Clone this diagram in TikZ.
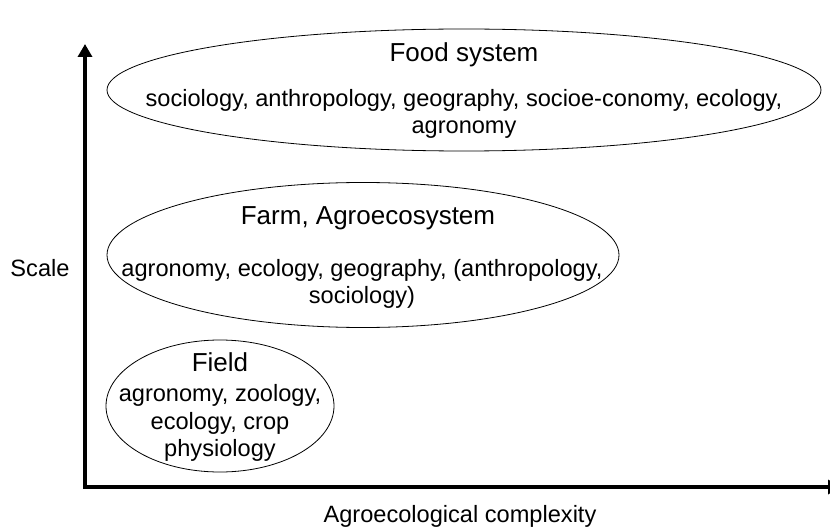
\documentclass[tikz,border=0pt]{standalone}
\usepackage{fontspec}
\setmainfont{Liberation Sans}
\usetikzlibrary{positioning,arrows.meta,shapes.geometric}

\tikzset{
  zone/.style={draw, ellipse, line width=0.8pt, inner sep=0pt},
  head/.style={font=\fontsize{26}{30}\selectfont, align=center, inner sep=0pt},
  fields/.style={font=\fontsize{23.6}{27.5}\selectfont, align=center, inner sep=0pt},
  axis/.style={line width=3.5pt, {Triangle[length=13pt,width=14pt]}-{Triangle[length=13pt,width=14pt]}}
}

\begin{document}
\begin{tikzpicture}[x=1pt,y=-1pt]

        \useasboundingbox (0,0) rectangle (830,532);
        \clip (0,0) rectangle (830,532);

        % axes
        \coordinate (ytop) at (85,44);
        \coordinate (origin) at (85,487);
        \coordinate (xend) at (841,487);
        \draw[axis] (ytop) -- (origin) -- (xend);

        \node (scale) at (40,268) {\fontsize{23.6}{27}\selectfont Scale};
        \node (complexity) at (460,516) {\fontsize{23.6}{27}\selectfont Agroecological complexity};

        % food system
        \node[zone, minimum width=714pt, minimum height=122pt] (food) at (464,90) {};
        \node[head] (foodhead) at (464,55) {Food system};
        \node[fields] (foodtext) at (464,114) {sociology, anthropology, geography, socioe-conomy, ecology,\\agronomy};

        % farm
        \node[zone, minimum width=512pt, minimum height=145pt] (farm) at (363,255) {};
        \node[head] (farmhead) at (368,218) {Farm, Agroecosystem};
        \node[fields] (farmtext) at (362,284) {agronomy, ecology, geography, (anthropology,\\sociology)};

        % field
        \node[zone, minimum width=228pt, minimum height=132pt] (field) at (220,406) {};
        \node[head] (fieldhead) at (220,362) {Field};
        \node[fields] (fieldtext) at (220,423) {agronomy, zoology,\\ecology, crop\\physiology};

\end{tikzpicture}
\end{document}
